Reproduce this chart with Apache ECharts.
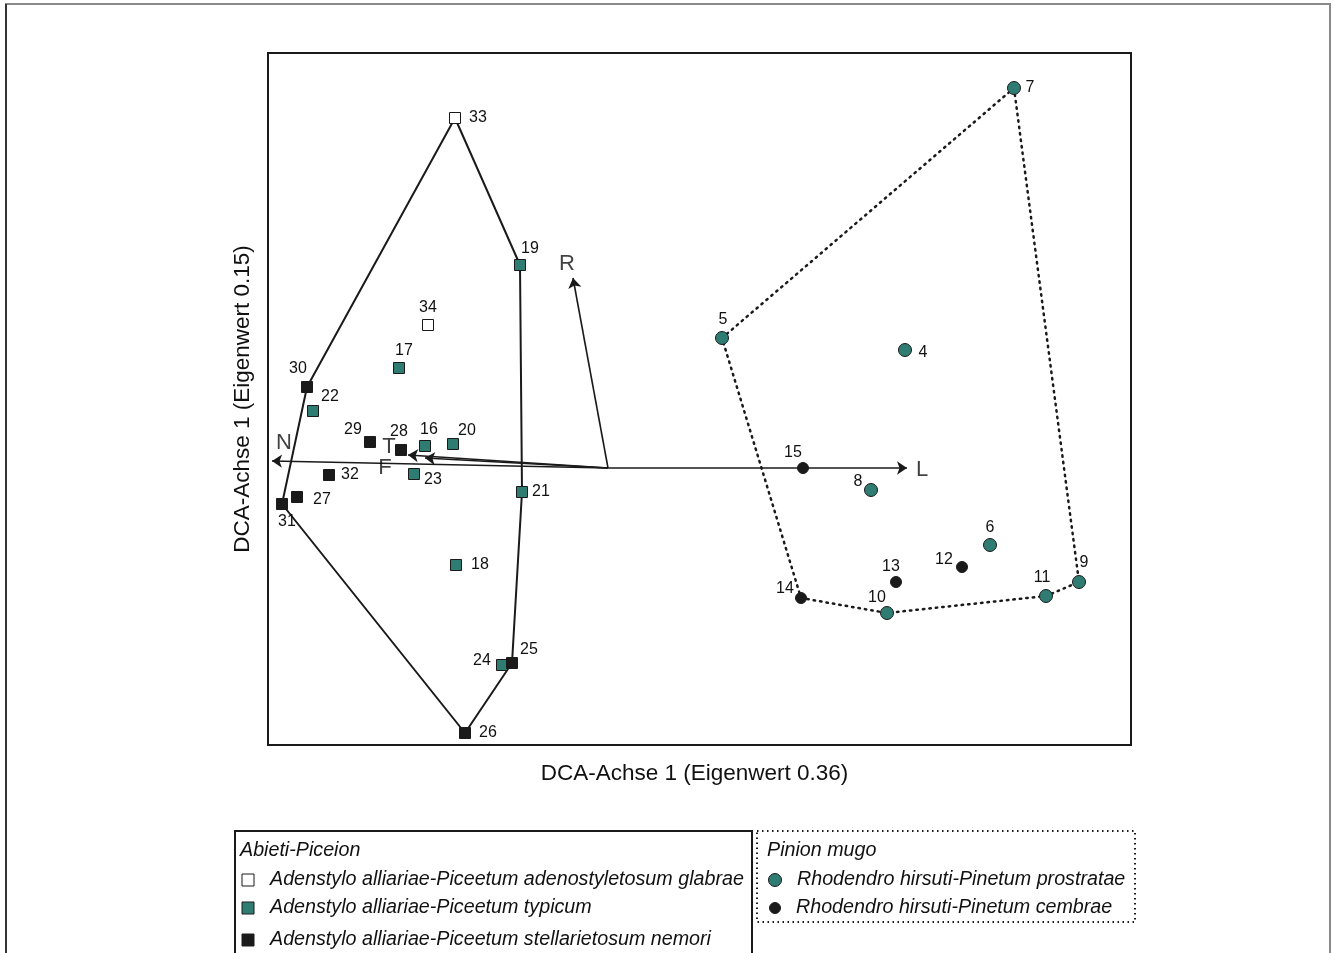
<!DOCTYPE html>
<html><head><meta charset="utf-8">
<script src="https://cdn.jsdelivr.net/npm/echarts@6/dist/echarts.min.js"></script>
<style>html,body{margin:0;padding:0;background:#fff}#c{width:1335px;height:953px}</style>
</head><body><div id="c"></div>
<script>
// Sample scores (DCA axis units): [x, y, id]
const adenostyletosum = [[1.87,6.27,'33'],[1.60,4.20,'34']];
const typicum = [[2.52,4.80,'19'],[1.31,3.77,'17'],[0.45,3.34,'22'],[1.57,2.99,'16'],[1.85,3.01,'20'],[1.46,2.71,'23'],[2.54,2.53,'21'],[1.88,1.80,'18'],[2.34,0.80,'24']];
const stellarietosum = [[0.39,3.58,'30'],[1.02,3.03,'29'],[1.33,2.95,'28'],[0.61,2.70,'32'],[0.29,2.48,'27'],[0.14,2.41,'31'],[2.44,0.82,'25'],[1.97,0.12,'26']];
const prostratae = [[7.46,6.57,'7'],[4.54,4.07,'5'],[6.37,3.95,'4'],[6.03,2.55,'8'],[7.22,2.00,'6'],[8.11,1.63,'9'],[7.78,1.49,'11'],[6.19,1.32,'10']];
const cembrae = [[5.35,2.77,'15'],[6.94,1.78,'12'],[6.28,1.63,'13'],[5.33,1.47,'14']];
// Hull vertex order (sample ids)
const hullAbieti = ['33','19','21','25','26','31','30','33'];
const hullPinion = ['7','9','11','10','14','5','7'];
// Environmental vectors
const vecOrigin = [3.40,2.77];
const vecNames = ['N','T','F','R','L'];
const vecTips = [[0.04,2.84],[1.40,2.90],[1.57,2.87],[3.05,4.67],[6.39,2.77]];

const xRange = [0, 8.63], yRange = [0, 6.92];

const labelOff = {'33':[23,0],'34':[0,-17],'19':[10,-16],'17':[5,-17],'22':[17,-14],'16':[4,-16],'20':[14,-13],'23':[19,6],'21':[19,0],'18':[24,0],'24':[-20,-4],
 '30':[-9,-18],'29':[-17,-12],'28':[-2,-18],'32':[21,0],'27':[25,3],'31':[5,18],'25':[17,-13],'26':[23,0],
 '7':[16,0],'5':[1,-18],'4':[18,3],'8':[-13,-8],'6':[0,-17],'9':[5,-19],'11':[-4,-18],'10':[-10,-15],
 '15':[-10,-15],'12':[-18,-7],'13':[-5,-15],'14':[-16,-9]};
const vecLabelOff = {'N':[12,-18],'T':[-19,-8],'F':[-40,10],'R':[-6,-14],'L':[15,2]};

const FONT = "'Liberation Sans', Arial, sans-serif";
const TEAL = '#2f7d72', DARK = '#1a1a1a';
const LFONT = 'italic 19.7px ' + FONT;
const all = [].concat(adenostyletosum, typicum, stellarietosum, prostratae, cembrae);
const byId = {}; all.forEach(p => byId[p[2]] = p);

function pts(arr){ return arr.map(p => ({value:[p[0],p[1]], name:p[2], label:{offset:labelOff[p[2]]||[0,-15]}})); }
function scat(arr, sym, size, fill){
  return {type:'scatter', data:pts(arr), symbol:sym, symbolSize:size, z:5,
    itemStyle:{color:fill, borderColor:DARK, borderWidth:1, opacity:1},
    label:{show:true, position:'inside', formatter:'{b}', color:'#111', fontSize:16, fontFamily:FONT},
    emphasis:{disabled:true}};
}
function hull(ids, dotted){
  return {type:'line', data:ids.map(i => [byId[i][0], byId[i][1]]), symbol:'none', z:3, silent:true,
    lineStyle: dotted ? {color:DARK, width:2.5, type:[1.5,5], cap:'round'} : {color:DARK, width:2},
    animation:false};
}

const option = {
  animation:false,
  grid:{left:268, top:53, width:863, height:692, show:true, borderColor:DARK, borderWidth:2, backgroundColor:'#fff'},
  xAxis:{type:'value', min:xRange[0], max:xRange[1], axisLine:{show:false}, axisTick:{show:false}, axisLabel:{show:false}, splitLine:{show:false},
    name:'DCA-Achse 1 (Eigenwert 0.36)', nameLocation:'middle', nameGap:17, nameTextStyle:{fontSize:22.5, color:'#111', fontFamily:FONT, padding:[0,10,0,0]}},
  yAxis:{type:'value', min:yRange[0], max:yRange[1], axisLine:{show:false}, axisTick:{show:false}, axisLabel:{show:false}, splitLine:{show:false},
    name:'DCA-Achse 1 (Eigenwert 0.15)', nameLocation:'middle', nameGap:14, nameTextStyle:{fontSize:22.5, color:'#111', fontFamily:FONT}},
  series:[
    hull(hullAbieti,false),
    hull(hullPinion,true),
    {type:'lines', coordinateSystem:'cartesian2d', z:4, silent:true,
      symbol:['none','arrow'], symbolSize:[0,10],
      lineStyle:{color:DARK, width:1.6, opacity:1},
      data:vecTips.map(t => ({coords:[vecOrigin, t]}))},
    {type:'scatter', symbolSize:0, z:6, silent:true,
      data:vecTips.map((t,i) => ({value:t, name:vecNames[i], label:{offset:vecLabelOff[vecNames[i]]}})),
      label:{show:true, position:'inside', formatter:'{b}', fontSize:22, color:'#111', fontFamily:FONT}},
    scat(adenostyletosum,'rect',11,'#fff'),
    scat(typicum,'rect',11,TEAL),
    scat(stellarietosum,'rect',11,DARK),
    scat(prostratae,'circle',13,TEAL),
    scat(cembrae,'circle',11,DARK)
  ],
  graphic:[
    {type:'rect', shape:{x:6,y:4,width:1324,height:970}, style:{fill:'none', stroke:'#8a8a8a', lineWidth:2}, z:-1},
    {type:'line', shape:{x1:6,y1:4,x2:6,y2:953}, style:{stroke:'#333', lineWidth:2}},
    {type:'rect', shape:{x:235,y:831,width:517,height:140}, style:{fill:'none', stroke:DARK, lineWidth:2}},
    {type:'rect', shape:{x:757,y:831,width:378,height:91}, style:{fill:'none', stroke:DARK, lineWidth:2, lineDash:[1.5,3.5]}},
    {type:'text', x:240, y:851, style:{text:'Abieti-Piceion', font:LFONT, fill:'#111', verticalAlign:'middle'}},
    {type:'rect', shape:{x:242,y:874,width:12,height:12}, style:{fill:'#fff', stroke:DARK, lineWidth:1}},
    {type:'text', x:270, y:880, style:{text:'Adenstylo alliariae-Piceetum adenostyletosum glabrae', font:LFONT, fill:'#111', verticalAlign:'middle'}},
    {type:'rect', shape:{x:242,y:902,width:12,height:12}, style:{fill:TEAL, stroke:DARK, lineWidth:1}},
    {type:'text', x:270, y:908, style:{text:'Adenstylo alliariae-Piceetum typicum', font:LFONT, fill:'#111', verticalAlign:'middle'}},
    {type:'rect', shape:{x:242,y:934,width:12,height:12}, style:{fill:DARK, stroke:DARK, lineWidth:1}},
    {type:'text', x:270, y:940, style:{text:'Adenstylo alliariae-Piceetum stellarietosum nemori', font:LFONT, fill:'#111', verticalAlign:'middle'}},
    {type:'text', x:767, y:851, style:{text:'Pinion mugo', font:LFONT, fill:'#111', verticalAlign:'middle'}},
    {type:'circle', shape:{cx:775,cy:880,r:6.5}, style:{fill:TEAL, stroke:DARK, lineWidth:1}},
    {type:'text', x:797, y:880, style:{text:'Rhodendro hirsuti-Pinetum prostratae', font:LFONT, fill:'#111', verticalAlign:'middle'}},
    {type:'circle', shape:{cx:775,cy:908,r:5.5}, style:{fill:DARK, stroke:DARK, lineWidth:1}},
    {type:'text', x:796, y:908, style:{text:'Rhodendro hirsuti-Pinetum cembrae', font:LFONT, fill:'#111', verticalAlign:'middle'}}
  ]
};
const chart = echarts.init(document.getElementById('c'), null, {renderer:'canvas'});
chart.setOption(option);
</script></body></html>
